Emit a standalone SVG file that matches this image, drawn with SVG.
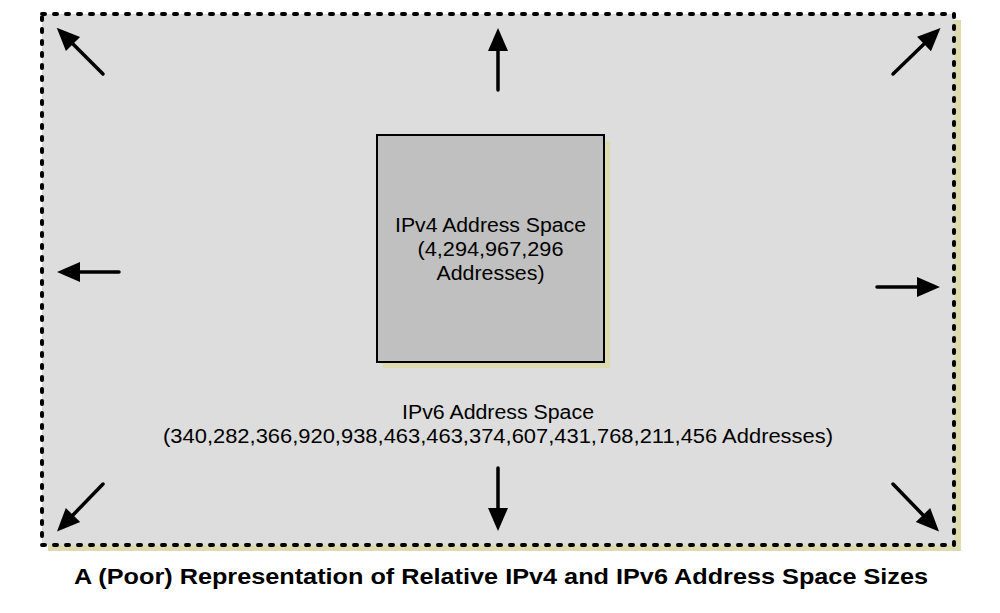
<svg xmlns="http://www.w3.org/2000/svg" width="1000" height="613" viewBox="0 0 1000 613">
  <style>
    .shadow { fill: #dedab0; }
    .lbl { font-family: "Liberation Sans", Arial, sans-serif; font-size: 19.5px; fill: #000; text-anchor: middle; }
    .title { font-family: "Liberation Sans", Arial, sans-serif; font-size: 22.5px; font-weight: bold; fill: #000; text-anchor: middle; }
    .arrow { stroke: #000; stroke-width: 3.5; stroke-linecap: round; fill: none; marker-end: url(#head); }
  </style>
  <defs>
    <marker id="head" markerUnits="userSpaceOnUse" markerWidth="24" markerHeight="22" refX="0" refY="10" orient="auto" overflow="visible">
      <path d="M0,0 L23,10 L0,20 Z" fill="#000"/>
    </marker>
  </defs>
  <rect width="1000" height="613" fill="#ffffff"/>

  <g id="ipv6-space">
    <rect class="shadow" x="48" y="20" width="913" height="531"/>
    <rect x="42" y="14" width="912" height="531" fill="#dddddd" stroke="#000" stroke-width="4" stroke-dasharray="3 9" stroke-linecap="round"/>
    <text class="lbl" x="498" y="419" textLength="192" lengthAdjust="spacingAndGlyphs">IPv6 Address Space</text>
    <text class="lbl" x="498" y="443" textLength="670" lengthAdjust="spacingAndGlyphs">(340,282,366,920,938,463,463,374,607,431,768,211,456 Addresses)</text>
  </g>

  <g id="ipv4-space">
    <rect class="shadow" x="383" y="141" width="227" height="227"/>
    <rect x="377" y="135" width="227" height="227" fill="#c0c0c0" stroke="#000" stroke-width="2"/>
    <text class="lbl" x="490.5" y="232" textLength="191" lengthAdjust="spacingAndGlyphs">IPv4 Address Space</text>
    <text class="lbl" x="490.5" y="256" textLength="146" lengthAdjust="spacingAndGlyphs">(4,294,967,296</text>
    <text class="lbl" x="490.5" y="280" textLength="108" lengthAdjust="spacingAndGlyphs">Addresses)</text>
  </g>

  <g id="connectors">
    <line class="arrow" x1="498" y1="90" x2="498" y2="51"/>
    <line class="arrow" x1="498" y1="468" x2="498" y2="508"/>
    <line class="arrow" x1="119" y1="272" x2="80" y2="272"/>
    <line class="arrow" x1="877" y1="287" x2="917" y2="287"/>
    <line class="arrow" x1="103" y1="74" x2="73" y2="44"/>
    <line class="arrow" x1="893" y1="74" x2="924" y2="44"/>
    <line class="arrow" x1="103" y1="484" x2="73" y2="515"/>
    <line class="arrow" x1="893" y1="484" x2="923" y2="515"/>
  </g>

  <text id="caption" class="title" x="501" y="584" textLength="854" lengthAdjust="spacingAndGlyphs">A (Poor) Representation of Relative IPv4 and IPv6 Address Space Sizes</text>
</svg>
